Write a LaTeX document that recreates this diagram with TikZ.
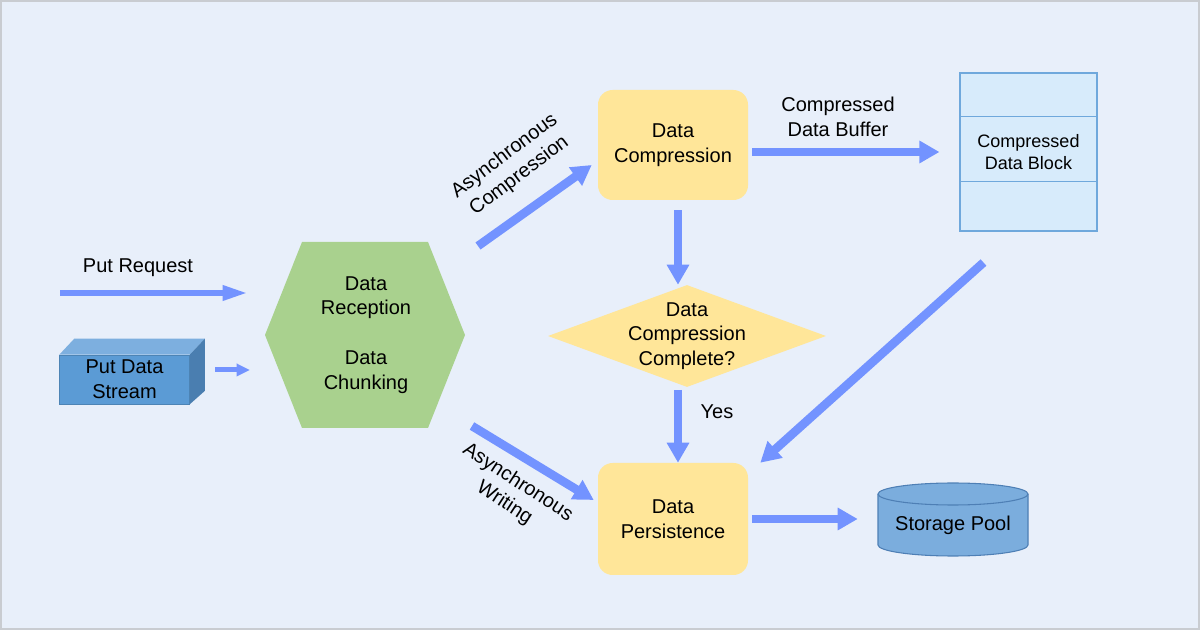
\documentclass[tikz,border=0pt]{standalone}
\usepackage{fontspec}
\setmainfont{Liberation Sans}
\usepackage{tikz}
\usetikzlibrary{arrows.meta,shapes.geometric,calc}
\definecolor{bgpale}{HTML}{E8EFFA}
\definecolor{framegray}{HTML}{C9CCD1}
\definecolor{flowblue}{HTML}{7393FF}
\definecolor{chunkgreen}{HTML}{A9D18E}
\definecolor{stepyellow}{HTML}{FFE699}
\definecolor{blockfill}{HTML}{D7EBFB}
\definecolor{blockline}{HTML}{6FA8DC}
\definecolor{streamfront}{HTML}{5B9BD5}
\definecolor{streamtop}{HTML}{7DAFDF}
\definecolor{streamside}{HTML}{4A7EB0}
\definecolor{poolfill}{HTML}{7BADDD}
\definecolor{poolline}{HTML}{4E7FB5}
\newcommand\bigtxt{\fontsize{15}{18.5}\selectfont}
\newcommand\blocktxt{\fontsize{13.5}{16.5}\selectfont}
\tikzset{
  plain/.style    ={align=center,font=\bigtxt,inner sep=1pt},
  stepbox/.style  ={rounded corners=11pt,fill=stepyellow,minimum width=112.5pt,
                    align=center,font=\bigtxt},
  decision/.style ={diamond,fill=stepyellow,inner sep=0pt,
                    minimum width=208.5pt,minimum height=76.5pt},
  blockbox/.style ={draw=blockline,line width=0.8pt,fill=blockfill,align=center,
                    font=\blocktxt,minimum width=102.75pt,minimum height=118.5pt},
  streambox/.style={fill=streamfront,draw=streamfront!85!black,line width=0.4pt,
                    align=center,font=\bigtxt,minimum width=97.5pt,minimum height=36.75pt},
  flow/.style     ={-{Triangle[length=15pt,width=16pt]},line width=6.5pt,draw=flowblue},
  thinflow/.style ={-{Triangle[length=19pt,width=10.5pt]},line width=4.5pt,draw=flowblue},
  smallflow/.style={-{Triangle[length=10pt,width=9pt]},line width=3.75pt,draw=flowblue}
}

\begin{document}
\begin{tikzpicture}[x=0.75pt,y=-0.75pt]
    % --- canvas ---
    \useasboundingbox (0,0) rectangle (1200,630);
    \fill[bgpale] (0,0) rectangle (1200,630);
    \draw[framegray,line width=1.5pt] (1,1) rectangle (1199,629);
    % --- input side ---
    \node[plain] (reqlbl) at (138,268) {Put Request};
    \coordinate (reqtail) at (60,293);
    \coordinate (reqtip) at (248,293);
    \node[streambox] (stream) at (124.5,379.5) {Put Data\\Stream};
    \fill[streamtop] (stream.north west) -- ++(11.25pt,12pt)
      -- ($(stream.north east)+(11.25pt,12pt)$) -- (stream.north east) -- cycle;
    \fill[streamside] (stream.north east) -- ++(11.25pt,12pt)
      -- ($(stream.south east)+(11.25pt,10pt)$) -- (stream.south east) -- cycle;
    \coordinate (streamout) at (215,370);
    \coordinate (streamtip) at (250,370);
    % --- chunking hexagon ---
    \fill[chunkgreen] (265,335) -- (302,242) -- (428,242) -- (465,335)
      -- (428,428) -- (302,428) -- cycle;
    \node[plain] (hex) at (366,335) {Data\\Reception\\[19pt]Data\\Chunking};
    \coordinate (compout) at (478,246);
    \coordinate (writeout) at (472,426);
    % --- compression branch ---
    \node[stepbox,minimum height=82.5pt] (comp) at (673,145) {Data\\Compression};
    \node[blockbox] (block) at (1028.5,152) {Compressed\\Data Block};
    \draw[blockline,line width=0.8pt] ([xshift=1.5pt,yshift=-33pt]block.north west)
      -- ([xshift=-1.5pt,yshift=-33pt]block.north east);
    \draw[blockline,line width=0.8pt] ([xshift=1.5pt,yshift=37.5pt]block.south west)
      -- ([xshift=-1.5pt,yshift=37.5pt]block.south east);
    \node[decision] (dec) at (687,336) {};
    \node[plain] (dectext) at (dec) {Data\\Compression\\Complete?};
    % --- persistence ---
    \node[stepbox,minimum height=84pt] (pers) at (673,519) {Data\\Persistence};
    \filldraw[fill=poolfill,draw=poolline,line width=0.8pt] (878,494) -- (878,545)
      arc[start angle=180,end angle=360,x radius=56.25pt,y radius=8.25pt]
      -- (1028,494)
      arc[start angle=0,end angle=180,x radius=56.25pt,y radius=8.25pt] -- cycle;
    \draw[poolline,line width=0.8pt] (878,494)
      arc[start angle=180,end angle=360,x radius=56.25pt,y radius=8.25pt];
    \node[plain,minimum width=112.5pt] (pool) at (953,525) {Storage Pool};
    % --- labels ---
    \node[plain,rotate=37] (compasync) at (512,166) {Asynchronous\\Compression};
    \node[plain,rotate=-33] (writeasync) at (511,493) {Asynchronous\\Writing};
    \node[plain] (buflbl) at (838,117) {Compressed\\Data Buffer};
    \node[plain] (yeslbl) at (717,412) {Yes};
    % --- flow ---
    \draw[thinflow] (reqtail) -- (reqtip);
    \draw[smallflow] (streamout) -- (streamtip);
    \draw[flow] (compout) -- ([xshift=-4.5pt,yshift=-15pt]comp.west);
    \draw[flow] (writeout) -- ([xshift=-3pt,yshift=14.25pt]pers.west);
    \draw[flow,shorten <=3pt,shorten >=15pt] (comp.east |- block.west) -- (block.west);
    \draw[flow,shorten <=7.5pt] ([xshift=3.75pt]comp.south)
      -- ([xshift=3.75pt]comp.south |- dec.north);
    \draw[flow,shorten <=2pt] ([xshift=3.75pt]pers.north |- dec.south)
      -- ([xshift=3.75pt]pers.north);
    \draw[flow] ([xshift=-33.75pt,yshift=-23.25pt]block.south)
      -- ([xshift=9pt]pers.north east);          % back down to persistence
    \draw[flow,shorten <=3pt,shorten >=15pt] (pers.east) -- (pers.east -| pool.west);
  \end{tikzpicture}
\end{document}
